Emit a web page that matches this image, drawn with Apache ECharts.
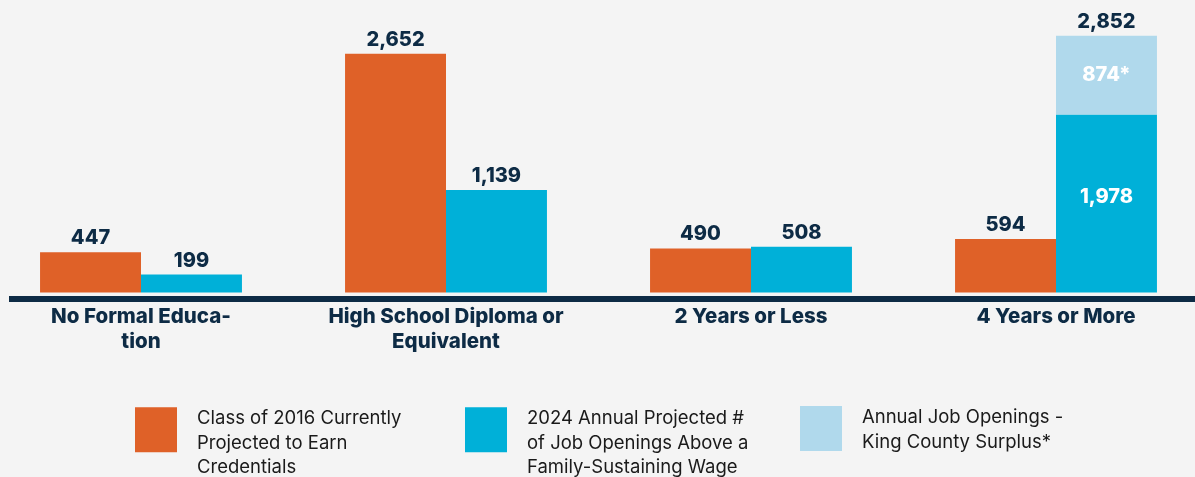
<!DOCTYPE html>
<html>
<head>
<meta charset="utf-8">
<script src="https://cdn.jsdelivr.net/npm/echarts@6/dist/echarts.min.js"></script>
<style>
html,body{margin:0;padding:0;background:#f4f4f4;}
#chart{width:1195px;height:477px;}
</style>
</head>
<body>
<div id="chart"></div>
<script>
const categories = ['No Formal Educa-\ntion', 'High School Diploma or\nEquivalent', '2 Years or Less', '4 Years or More'];
const classOf2016 = [447, 2652, 490, 594];
const jobOpenings = [199, 1139, 508, 1978];
const surplus = [0, 0, 0, 874];
const seriesNames = [
  'Class of 2016 Currently\nProjected to Earn\nCredentials',
  '2024 Annual Projected #\nof Job Openings Above a\nFamily-Sustaining Wage',
  'Annual Job Openings -\nKing County Surplus*'
];

const NAVY = '#0d2b45';
const ORANGE = '#df6128';
const BLUE = '#00b0d8';
const LIGHT = '#b0d9ec';
const FONT = 'Inter, Roboto, sans-serif';

const fmt = v => Number(v).toLocaleString('en-US');
const topLabel = { show: true, position: 'top', distance: 4, color: NAVY, fontFamily: FONT, fontWeight: 800, fontSize: 20, formatter: p => fmt(p.value) };
const insideLabel = { show: true, position: 'inside', color: '#ffffff', fontFamily: FONT, fontWeight: 800, fontSize: 20 };

const jobData = jobOpenings.map((v, i) => surplus[i] > 0
  ? { value: v, label: Object.assign({}, insideLabel, { offset: [0, -7], formatter: p => fmt(p.value) }) }
  : { value: v });
const surplusData = surplus.map(v => v > 0
  ? { value: v, label: Object.assign({}, insideLabel, { formatter: p => fmt(p.value) + '*' }) }
  : { value: v, label: { show: false } });
const totalData = surplus.map((v, i) => v > 0
  ? { value: 0, label: Object.assign({}, topLabel, { formatter: () => fmt(jobOpenings[i] + surplus[i]) }) }
  : { value: 0, label: { show: false } });

const legendText = { fontFamily: FONT, fontSize: 18.5, color: '#1a1a1a', lineHeight: 24.5 };
const legendBase = (name, left, top, shift) => ({
  data: [name], left: left, top: top, orient: 'vertical', padding: 0,
  itemWidth: 42, itemHeight: 45, icon: 'rect', selectedMode: false,
  formatter: n => '{s| }\n{t|' + n + '}',
  textStyle: Object.assign({}, legendText, {
    padding: [0, 0, 0, 15],
    rich: { s: { height: shift, lineHeight: shift, fontSize: 1 }, t: legendText }
  })
});

const chart = echarts.init(document.getElementById('chart'));
chart.setOption({
  backgroundColor: '#f4f4f4',
  animation: false,
  grid: { left: -11.5, width: 1220, top: 22.5, height: 270, outerBoundsMode: 'none', containLabel: false },
  legend: [
    legendBase(seriesNames[0], 135, 379.5, 27),
    legendBase(seriesNames[1], 465, 379.5, 27),
    legendBase(seriesNames[2], 800, 402.5, 3)
  ],
  xAxis: {
    type: 'category', data: categories,
    axisLine: { show: false }, axisTick: { show: false },
    axisLabel: { interval: 0, margin: 12, color: NAVY, fontFamily: FONT, fontWeight: 800, fontSize: 20.5, lineHeight: 25 }
  },
  yAxis: { type: 'value', min: 0, max: 3000, show: false, splitLine: { show: false } },
  graphic: [{ type: 'rect', shape: { x: 9, y: 296, width: 1186, height: 6 }, style: { fill: NAVY } }],
  series: [
    { name: seriesNames[0], type: 'bar', data: classOf2016, itemStyle: { color: ORANGE }, barGap: '0%', barCategoryGap: '33.8%', label: topLabel },
    { name: seriesNames[1], type: 'bar', stack: 'jobs', data: jobData, itemStyle: { color: BLUE }, label: topLabel },
    { name: seriesNames[2], type: 'bar', stack: 'jobs', data: surplusData, itemStyle: { color: LIGHT } },
    { name: 'total', type: 'bar', stack: 'jobs', data: totalData, itemStyle: { color: 'rgba(0,0,0,0)' } }
  ]
});
</script>
</body>
</html>
